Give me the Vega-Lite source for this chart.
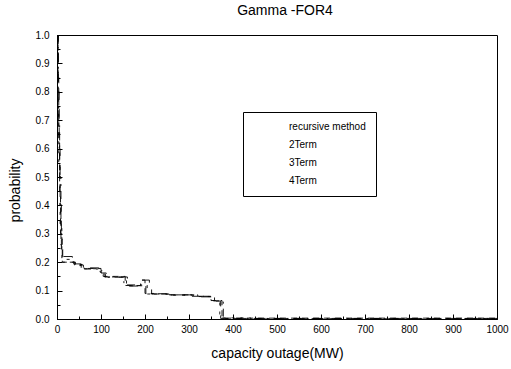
{
  "$schema": "https://vega.github.io/schema/vega-lite/v6.json",
  "width": 440,
  "height": 284,
  "autosize": "none",
  "padding": {"left": 57, "top": 35, "right": 14, "bottom": 50},
  "background": "white",
  "config": {
    "view": {"stroke": "black", "strokeWidth": 1},
    "font": "Liberation Sans",
    "axis": {"domainColor": "black", "tickColor": "black", "labelColor": "black", "titleColor": "black", "grid": false}
  },
  "title": {"text": "Gamma -FOR4", "fontSize": 14, "fontWeight": "normal", "anchor": "middle", "offset": 12, "dx": 8, "color": "black"},
  "data": {"values": [
    {"series": "recursive method", "x": 0, "p": 1.0},
    {"series": "recursive method", "x": 2, "p": 0.86},
    {"series": "recursive method", "x": 4, "p": 0.62},
    {"series": "recursive method", "x": 6, "p": 0.45},
    {"series": "recursive method", "x": 8, "p": 0.3},
    {"series": "recursive method", "x": 12, "p": 0.2},
    {"series": "recursive method", "x": 40, "p": 0.19},
    {"series": "recursive method", "x": 60, "p": 0.178},
    {"series": "recursive method", "x": 100, "p": 0.17},
    {"series": "recursive method", "x": 105, "p": 0.15},
    {"series": "recursive method", "x": 155, "p": 0.118},
    {"series": "recursive method", "x": 190, "p": 0.137},
    {"series": "recursive method", "x": 200, "p": 0.09},
    {"series": "recursive method", "x": 220, "p": 0.088},
    {"series": "recursive method", "x": 250, "p": 0.085},
    {"series": "recursive method", "x": 300, "p": 0.08},
    {"series": "recursive method", "x": 350, "p": 0.065},
    {"series": "recursive method", "x": 375, "p": 0.003},
    {"series": "recursive method", "x": 1000, "p": 0.003},
    {"series": "2Term", "x": 0, "p": 1.0},
    {"series": "2Term", "x": 3, "p": 0.8},
    {"series": "2Term", "x": 5, "p": 0.6},
    {"series": "2Term", "x": 7, "p": 0.4},
    {"series": "2Term", "x": 10, "p": 0.22},
    {"series": "2Term", "x": 35, "p": 0.194},
    {"series": "2Term", "x": 55, "p": 0.18},
    {"series": "2Term", "x": 95, "p": 0.17},
    {"series": "2Term", "x": 102, "p": 0.158},
    {"series": "2Term", "x": 110, "p": 0.148},
    {"series": "2Term", "x": 160, "p": 0.116},
    {"series": "2Term", "x": 185, "p": 0.137},
    {"series": "2Term", "x": 210, "p": 0.127},
    {"series": "2Term", "x": 215, "p": 0.088},
    {"series": "2Term", "x": 255, "p": 0.085},
    {"series": "2Term", "x": 325, "p": 0.078},
    {"series": "2Term", "x": 352, "p": 0.063},
    {"series": "2Term", "x": 372, "p": 0.002},
    {"series": "2Term", "x": 1000, "p": 0.002},
    {"series": "3Term", "x": 0, "p": 1.0},
    {"series": "3Term", "x": 2, "p": 0.75},
    {"series": "3Term", "x": 4, "p": 0.55},
    {"series": "3Term", "x": 7, "p": 0.33},
    {"series": "3Term", "x": 11, "p": 0.21},
    {"series": "3Term", "x": 38, "p": 0.192},
    {"series": "3Term", "x": 58, "p": 0.177},
    {"series": "3Term", "x": 98, "p": 0.165},
    {"series": "3Term", "x": 108, "p": 0.148},
    {"series": "3Term", "x": 158, "p": 0.117},
    {"series": "3Term", "x": 195, "p": 0.12},
    {"series": "3Term", "x": 205, "p": 0.088},
    {"series": "3Term", "x": 252, "p": 0.084},
    {"series": "3Term", "x": 310, "p": 0.079},
    {"series": "3Term", "x": 355, "p": 0.064},
    {"series": "3Term", "x": 370, "p": 0.004},
    {"series": "3Term", "x": 440, "p": 0.001},
    {"series": "3Term", "x": 1000, "p": 0.001},
    {"series": "4Term", "x": 0, "p": 1.0},
    {"series": "4Term", "x": 3, "p": 0.7},
    {"series": "4Term", "x": 6, "p": 0.5},
    {"series": "4Term", "x": 9, "p": 0.26},
    {"series": "4Term", "x": 13, "p": 0.2},
    {"series": "4Term", "x": 42, "p": 0.188},
    {"series": "4Term", "x": 62, "p": 0.176},
    {"series": "4Term", "x": 100, "p": 0.162},
    {"series": "4Term", "x": 112, "p": 0.147},
    {"series": "4Term", "x": 152, "p": 0.12},
    {"series": "4Term", "x": 202, "p": 0.089},
    {"series": "4Term", "x": 258, "p": 0.085},
    {"series": "4Term", "x": 320, "p": 0.08},
    {"series": "4Term", "x": 358, "p": 0.064},
    {"series": "4Term", "x": 378, "p": 0.002},
    {"series": "4Term", "x": 1000, "p": 0.0}
  ]},
  "layer": [
    {
      "mark": {"type": "line", "interpolate": "step-after", "strokeWidth": 0.9, "clip": true},
      "encoding": {
        "x": {"field": "x", "type": "quantitative", "scale": {"domain": [0, 1000], "nice": false},
          "axis": {"orient": "bottom", "values": [0, 100, 200, 300, 400, 500, 600, 700, 800, 900, 1000], "format": "d", "tickSize": -5, "labelPadding": 10, "labelFontSize": 10, "labelFlush": false, "title": "capacity outage(MW)", "titleFontSize": 14, "titleFontWeight": "normal", "titleX": 220, "titleY": 34, "titleBaseline": "middle", "titleAlign": "center"}},
        "y": {"field": "p", "type": "quantitative", "scale": {"domain": [0, 1], "nice": false},
          "axis": {"orient": "left", "values": [0, 0.1, 0.2, 0.3, 0.4, 0.5, 0.6, 0.7, 0.8, 0.9, 1.0], "format": ".1f", "tickSize": -5, "labelPadding": 13, "labelFontSize": 10, "labelFlush": false, "title": "probability", "titleFontSize": 14, "titleFontWeight": "normal", "titleX": -42, "titleY": 155, "titleBaseline": "middle", "titleAlign": "center", "titleAngle": -90}},
        "color": {"field": "series", "type": "nominal", "sort": ["recursive method", "2Term", "3Term", "4Term"],
          "scale": {"range": ["black", "black", "black", "black"]},
          "legend": {"orient": "none", "legendX": 186, "legendY": 77, "title": null, "strokeColor": "black", "fillColor": "white", "padding": 10, "labelFontSize": 10, "labelColor": "black", "symbolOpacity": 0, "symbolType": "stroke", "symbolSize": 50, "rowPadding": 8, "labelOffset": 26, "labelLimit": 200}},
        "strokeDash": {"field": "series", "type": "nominal", "sort": ["recursive method", "2Term", "3Term", "4Term"],
          "scale": {"range": [[6, 5], [10, 9], [3, 6], [8, 5, 2, 5]]}, "legend": null}
      }
    },
    {
      "mark": {"type": "point", "opacity": 0},
      "encoding": {
        "x": {"field": "x", "type": "quantitative", "scale": {"domain": [0, 1000], "nice": false},
          "axis": {"orient": "bottom", "values": [50, 150, 250, 350, 450, 550, 650, 750, 850, 950], "tickSize": -3, "labels": false, "domain": false, "title": null}},
        "y": {"field": "p", "type": "quantitative", "scale": {"domain": [0, 1], "nice": false},
          "axis": {"orient": "left", "values": [0.05, 0.15, 0.25, 0.35, 0.45, 0.55, 0.65, 0.75, 0.85, 0.95], "tickSize": -3, "labels": false, "domain": false, "title": null}}
      }
    }
  ],
  "resolve": {"axis": {"x": "independent", "y": "independent"}}
}
